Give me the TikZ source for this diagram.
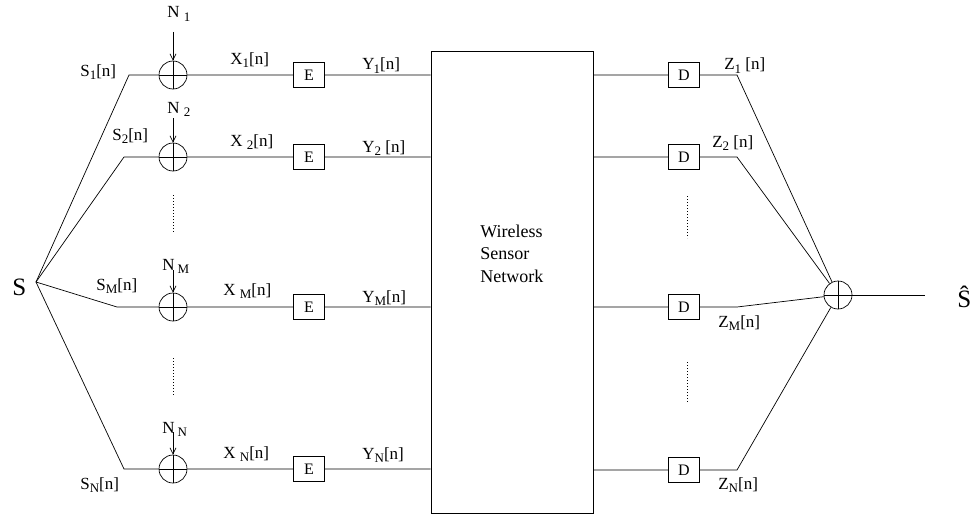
\documentclass[tikz,border=0pt]{standalone}
\usepackage{fontspec}
\setmainfont{Liberation Serif}
\usetikzlibrary{arrows.meta}
% lowered subscript in a smaller size
\newcommand\lsub[1]{\raisebox{-0.4ex}{\fontsize{13}{13}\selectfont #1}}
\begin{document}
\begin{tikzpicture}[x=1pt,y=-1pt,line width=0.7pt,
  lbl/.style={anchor=base west,inner sep=0pt,font=\fontsize{17}{17}\selectfont},
  sumnode/.style={circle,draw,minimum size=28pt,inner sep=0pt,
    path picture={\draw (path picture bounding box.north) -- (path picture bounding box.south)
                        (path picture bounding box.west) -- (path picture bounding box.east);}},
  encbox/.style={draw,minimum width=31pt,minimum height=25pt,inner sep=0pt,
    font=\fontsize{16}{16}\selectfont},
  noisearrow/.style={-{Straight Barb[length=6pt,width=6pt]}},
  vdots/.style={dash pattern=on 0.8pt off 2.2pt}]
\useasboundingbox (0,0) rectangle (971,519);

% source and fan-out point
\node[lbl,font=\fontsize{25}{25}\selectfont] (src) at (12,295) {S};
\coordinate (fan) at (36,282);

% network block
\node[draw,minimum width=162pt,minimum height=462pt,inner sep=0pt] (wsn) at (512,282) {};
\node[anchor=base west,inner sep=0pt,align=left,font=\fontsize{18}{22.5}\selectfont]
  (wsntext) at (480,282) {Wireless\\Sensor\\Network};

% sensor rows: 1, 2, M, N
\foreach \r/\y/\sx in {1/75/129, 2/157/124, M/307/117, N/469/124}{
  \coordinate (s\r) at (\sx,\y);
  \node[sumnode] (a\r) at (173,\y) {};
  \node[encbox] (e\r) at (309,\y) {E};
  \draw (fan) -- (s\r) -- (a\r) -- (e\r) -- (e\r -| wsn.west);
}

% decoder rows
\node[sumnode] (sum) at (838,295) {};
\foreach \r/\y in {1/75, 2/157, M/307, N/470}{
  \node[encbox] (d\r) at (684,\y) {D};
  \coordinate (z\r) at (737,\y);
  \draw (d\r -| wsn.east) -- (d\r) -- (z\r) -- (sum);
}
\coordinate (out) at (925,295);
\draw (sum) -- (out);
\node[lbl,font=\fontsize{25}{25}\selectfont] (shat) at (957,307) {\^{S}};

% noise inputs
\coordinate (n1a) at (173,32);
\coordinate (n2a) at (173,118);
\coordinate (nMa) at (173,270);
\coordinate (nNa) at (173,432);
\draw[noisearrow] (n1a) -- (a1);
\draw[noisearrow] (n2a) -- (a2);
\draw[noisearrow] (nMa) -- (aM);
\draw[noisearrow] (nNa) -- (aN);
\node[lbl] (n1) at (167,18) {N \lsub{1}};
\node[lbl] (n2) at (167,113) {N \lsub{2}};
\node[lbl] (nM) at (162,270) {N\hspace{3pt}\lsub{M}};
\node[lbl] (nN) at (162,433) {N\hspace{3pt}\lsub{N}};

% signal labels
\node[lbl] (ls1) at (80,76) {S\lsub{1}[n]};
\node[lbl] (ls2) at (112,140) {S\lsub{2}[n]};
\node[lbl] (lsM) at (96,290) {S\lsub{M}[n]};
\node[lbl] (lsN) at (80,489) {S\lsub{N}[n]};

\node[lbl] (lx1) at (230,64) {X\lsub{1}[n]};
\node[lbl] (lx2) at (230,146) {X \lsub{2}[n]};
\node[lbl] (lxM) at (223,295) {X \lsub{M}[n]};
\node[lbl] (lxN) at (223,458) {X \lsub{N}[n]};

\node[lbl] (ly1) at (362,70) {Y\hspace{-1pt}\lsub{1}[n]};
\node[lbl] (ly2) at (362,152) {Y\lsub{2} [n]};
\node[lbl] (lyM) at (362,302) {Y\lsub{M}[n]};
\node[lbl] (lyN) at (362,459) {Y\lsub{N}[n]};

\node[lbl] (lz1) at (724,70) {Z\lsub{1} [n]};
\node[lbl] (lz2) at (712,147) {Z\lsub{2} [n]};
\node[lbl] (lzM) at (718,327) {Z\lsub{M}[n]};
\node[lbl] (lzN) at (718,489) {Z\lsub{N}[n]};

% ellipsis dots between rows
\coordinate (ld1) at (173,195); \coordinate (ld2) at (173,232);
\coordinate (ld3) at (173,358); \coordinate (ld4) at (173,395);
\coordinate (rd1) at (687,196); \coordinate (rd2) at (687,238);
\coordinate (rd3) at (687,362); \coordinate (rd4) at (687,402);
\draw[vdots] (ld1) -- (ld2) (ld3) -- (ld4) (rd1) -- (rd2) (rd3) -- (rd4);
\end{tikzpicture}
\end{document}
